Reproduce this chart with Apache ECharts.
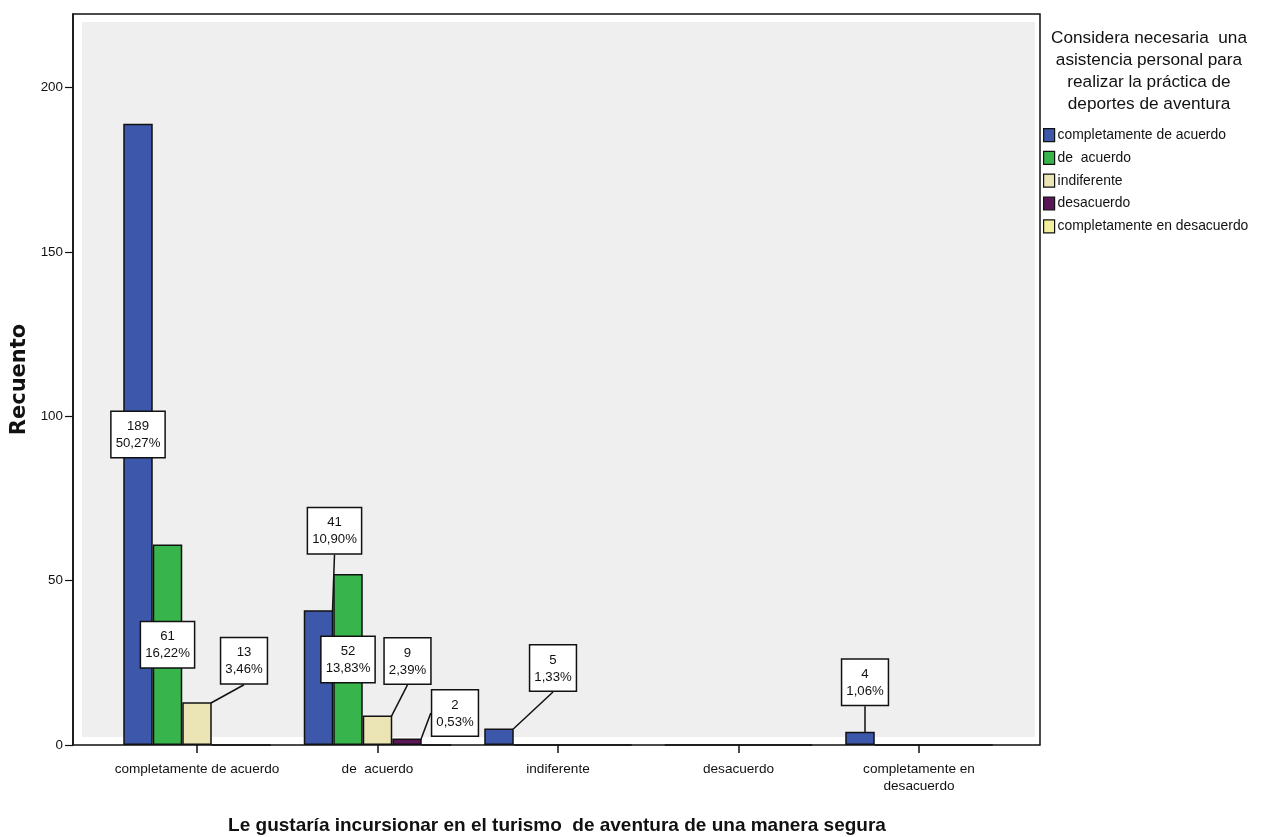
<!DOCTYPE html>
<html>
<head>
<meta charset="utf-8">
<script src="https://cdn.jsdelivr.net/npm/echarts@6/dist/echarts.min.js"></script>
<style>html,body{margin:0;padding:0;background:#fff;}#c{width:1264px;height:837px;}</style>
</head>
<body>
<div id="c"></div>
<script>
var categories = ['completamente de acuerdo', 'de  acuerdo', 'indiferente', 'desacuerdo', 'completamente en\ndesacuerdo'];
var seriesNames = ['completamente de acuerdo', 'de  acuerdo', 'indiferente', 'desacuerdo', 'completamente en desacuerdo'];
var sCompletamenteDeAcuerdo = [189, 41, 5, 0, 4];
var sDeAcuerdo = [61, 52, 0, 0, 0];
var sIndiferente = [13, 9, 0, 0, 0];
var sDesacuerdo = [0, 2, 0, 0, 0];
var sCompletamenteEnDesacuerdo = [0, 0, 0, 0, 0];
var yTicks = [0, 50, 100, 150, 200];
var legendTitle = 'Considera necesaria  una\nasistencia personal para\nrealizar la práctica de\ndeportes de aventura';
var xTitle = 'Le gustaría incursionar en el turismo  de aventura de una manera segura';
var yTitle = 'Recuento';

var allSeries = [sCompletamenteDeAcuerdo, sDeAcuerdo, sIndiferente, sDesacuerdo, sCompletamenteEnDesacuerdo];
var colors = ['#3d57ab', '#37b44b', '#ebe5b5', '#5a1656', '#f4ef9c'];
var total = 0;
allSeries.forEach(function (s) { s.forEach(function (v) { total += v; }); });

// label placement: inside the bar, or moved out with a leader line (dx, dy in px)
var insideLabels = {'0_0': 1, '1_0': 1, '1_1': 1};
var labelMoves = {'2_0': [47, -14], '0_1': [16, -52], '2_1': [30, -27], '3_1': [48, 2], '0_2': [54, -33], '0_4': [5, -22]};

var FONT = "'Liberation Sans', Arial, sans-serif";

function pct(v) { return (v / total * 100).toFixed(2).replace('.', ',') + '%'; }

var series = allSeries.map(function (arr, si) {
  return {
    name: seriesNames[si],
    type: 'bar',
    xAxisIndex: 1,
    yAxisIndex: 1,
    barWidth: 29.5,
    barGap: '0%',
    itemStyle: {color: colors[si], borderColor: '#111', borderWidth: 1.5},
    emphasis: {disabled: true},
    labelLayout: function (p) {
      var m = labelMoves[p.seriesIndex + '_' + p.dataIndex];
      if (m) return {dx: m[0], dy: m[1]};
      return {};
    },
    data: arr.map(function (v, i) {
      var inside = !!insideLabels[si + '_' + i];
      return {
        value: v,
        label: {
          show: v > 0,
          position: inside ? 'inside' : 'top',
          distance: 5,
          formatter: v + '\n' + pct(v),
          fontFamily: FONT,
          fontSize: 13.2,
          lineHeight: 17,
          color: '#111',
          align: 'center',
          backgroundColor: '#fff',
          borderColor: '#111',
          borderWidth: 1.5,
          padding: [6, 4, 5, 4]
        },
        labelLine: {show: v > 0 && !inside, lineStyle: {color: '#111', width: 1.5}}
      };
    })
  };
});

var chart = echarts.init(document.getElementById('c'), null, {renderer: 'canvas'});
chart.setOption({
  animation: false,
  backgroundColor: '#fff',
  title: [
    {text: legendTitle, left: 1149, top: 27, textAlign: 'center', padding: 0,
     textStyle: {fontFamily: FONT, fontSize: 17.2, fontWeight: 'normal', lineHeight: 22, color: '#111', align: 'center'}},
    {text: xTitle, left: 557, top: 816, textAlign: 'center', padding: 0,
     textStyle: {fontFamily: FONT, fontSize: 19, fontWeight: 'bold', color: '#111'}}
  ],
  legend: {
    orient: 'vertical',
    left: 1043,
    top: 128,
    padding: 0,
    itemWidth: 11,
    itemHeight: 13,
    itemGap: 8.6,
    icon: 'rect',
    selectedMode: false,
    data: seriesNames,
    textStyle: {fontFamily: FONT, fontSize: 13.9, lineHeight: 13, color: '#111', padding: [0, 0, 0, -2]},
    itemStyle: {borderColor: '#111', borderWidth: 1.2}
  },
  grid: [
    {left: 73, top: 14, width: 967, height: 731, show: true, backgroundColor: '#fff', borderColor: '#111', borderWidth: 1.5},
    {left: 106.75, top: 14, width: 902.5, height: 731},
    {left: 82, top: 22, width: 953, height: 715, show: true, backgroundColor: '#efefef', borderWidth: 0}
  ],
  xAxis: [
    {gridIndex: 0, type: 'category', data: categories, show: false},
    {gridIndex: 1, type: 'category', data: categories,
     axisLine: {show: false},
     axisTick: {show: true, alignWithLabel: true, length: 8, lineStyle: {color: '#111', width: 1.5}},
     axisLabel: {interval: 0, margin: 16, fontFamily: FONT, fontSize: 13.6, lineHeight: 17, color: '#111'}},
    {gridIndex: 2, type: 'category', data: categories, show: false}
  ],
  yAxis: [
    {gridIndex: 0, type: 'value', min: 0, max: 222.4, interval: 50,
     name: yTitle, nameLocation: 'middle', nameGap: 40, nameRotate: 90,
     nameTextStyle: {fontFamily: "'DejaVu Sans', sans-serif", fontWeight: 'bold', fontSize: 21, color: '#111'},
     axisLine: {show: true, lineStyle: {color: '#111', width: 1.5}},
     axisTick: {show: true, length: 8, lineStyle: {color: '#111', width: 1.2}},
     axisLabel: {margin: 10, showMaxLabel: false, fontFamily: FONT, fontSize: 13.4, color: '#111',
                 formatter: function (v) { return yTicks.indexOf(v) >= 0 ? String(v) : ''; }},
     splitLine: {show: false}},
    {gridIndex: 1, type: 'value', min: 0, max: 222.4, interval: 50, show: false, splitLine: {show: false}},
    {gridIndex: 2, type: 'value', min: 0, max: 222.4, show: false, splitLine: {show: false}}
  ],
  series: series
});
</script>
</body>
</html>
